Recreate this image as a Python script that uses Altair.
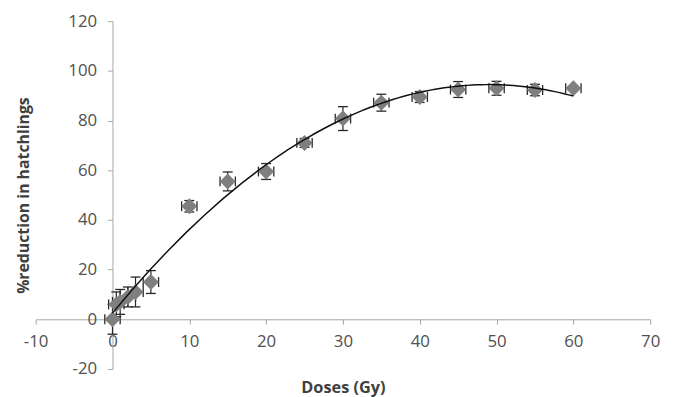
import altair as alt
import pandas as pd

# ---- data ----
doses = [0, 0.5, 1, 2, 3, 5, 10, 15, 20, 25, 30, 35, 40, 45, 50, 55, 60]
reduction = [0, 6, 7, 9, 11, 15, 45.5, 55.5, 59.5, 71, 80.8, 87.2, 89.5, 92.5, 93, 92.3, 93]
y_err = [6, 5, 5, 4, 6, 4.6, 2.3, 3.8, 3.2, 1.8, 4.8, 3.4, 2.2, 3.2, 2.8, 2.3, 0]
x_err = [1, 1, 1, 1, 1, 1, 1, 1, 1, 1, 1, 1, 1, 1, 1, 1, 1]

x_ticks = [-10, 0, 10, 20, 30, 40, 50, 60, 70]
y_ticks = [-20, 0, 20, 40, 60, 80, 100, 120]

df = pd.DataFrame({"dose": doses, "red": reduction, "yerr": y_err, "xerr": x_err})

W, H = 622, 352
XD = [-10, 70]
YD = [-20, 120]

FONT = "Open Sans"
TXT = "#505050"
TTL = "#404040"
AX = "#a6a6a6"
BAR = "#262626"

xs = alt.Scale(domain=XD, nice=False, zero=False)
ys = alt.Scale(domain=YD, nice=False, zero=False)

xaxis = alt.Axis(
    values=x_ticks, offset=-H * 20 / 140, title="Doses (Gy)", grid=False,
    labelExpr="toString(datum.value)",
    labelFlush=False, labelOverlap=False, domainColor=AX, tickColor=AX,
    tickSize=5, labelColor=TXT, labelFont=FONT, labelFontSize=17, labelPadding=10,
    titleFont=FONT, titleFontSize=16.5, titleFontWeight="bold", titleColor=TTL,
    titleY=61,
)
yaxis = alt.Axis(
    values=y_ticks, offset=-W * 10 / 80, title="%reduction in hatchlings", grid=False,
    labelExpr="toString(datum.value)",
    labelFlush=False, labelOverlap=False, domainColor=AX, tickColor=AX,
    tickSize=5, labelColor=TXT, labelFont=FONT, labelFontSize=17, labelPadding=11,
    titleFont=FONT, titleFontSize=16, titleFontWeight="bold", titleColor=TTL,
    titleX=-82, titleY=176,
)


def X(field):
    return alt.X(field, type="quantitative", scale=xs, axis=xaxis)


def Y(field):
    return alt.Y(field, type="quantitative", scale=ys, axis=yaxis)


base = alt.Chart(df).transform_calculate(
    ylo="datum.red - datum.yerr",
    yhi="datum.red + datum.yerr",
    xlo="datum.dose - datum.xerr",
    xhi="datum.dose + datum.xerr",
)

points = base.mark_point(
    shape="diamond", filled=True, size=260, color="#7f7f7f", opacity=1
).encode(x=X("dose"), y=Y("red"))

ybase = base.transform_filter("datum.yerr > 0")
y_rule = ybase.mark_rule(color=BAR, strokeWidth=1.2).encode(
    x=X("dose"), y=Y("ylo"), y2="yhi:Q"
)
y_cap_lo = ybase.mark_tick(orient="horizontal", size=10, thickness=1.3, color=BAR, opacity=1).encode(
    x=X("dose"), y=Y("ylo")
)
y_cap_hi = ybase.mark_tick(orient="horizontal", size=10, thickness=1.3, color=BAR, opacity=1).encode(
    x=X("dose"), y=Y("yhi")
)

x_rule = base.mark_rule(color=BAR, strokeWidth=1.2).encode(
    x=X("xlo"), x2="xhi:Q", y=Y("red")
)
x_cap_lo = base.mark_tick(orient="vertical", size=10, thickness=1.3, color=BAR, opacity=1).encode(
    x=X("xlo"), y=Y("red")
)
x_cap_hi = base.mark_tick(orient="vertical", size=10, thickness=1.3, color=BAR, opacity=1).encode(
    x=X("xhi"), y=Y("red")
)

trend = alt.Chart(df).transform_regression(
    "dose", "red", method="poly", order=2
).mark_line(color="#111111", strokeWidth=1.5).encode(x=X("dose"), y=Y("red"))

chart = alt.layer(
    y_rule, y_cap_lo, y_cap_hi, x_rule, x_cap_lo, x_cap_hi, points, trend
).properties(
    width=W, height=H, autosize="none",
    padding={"left": 28, "top": 11, "right": 16, "bottom": 26},
).configure_view(stroke=None)

chart.save("out.html", embed_options={"renderer": "svg", "actions": False})
